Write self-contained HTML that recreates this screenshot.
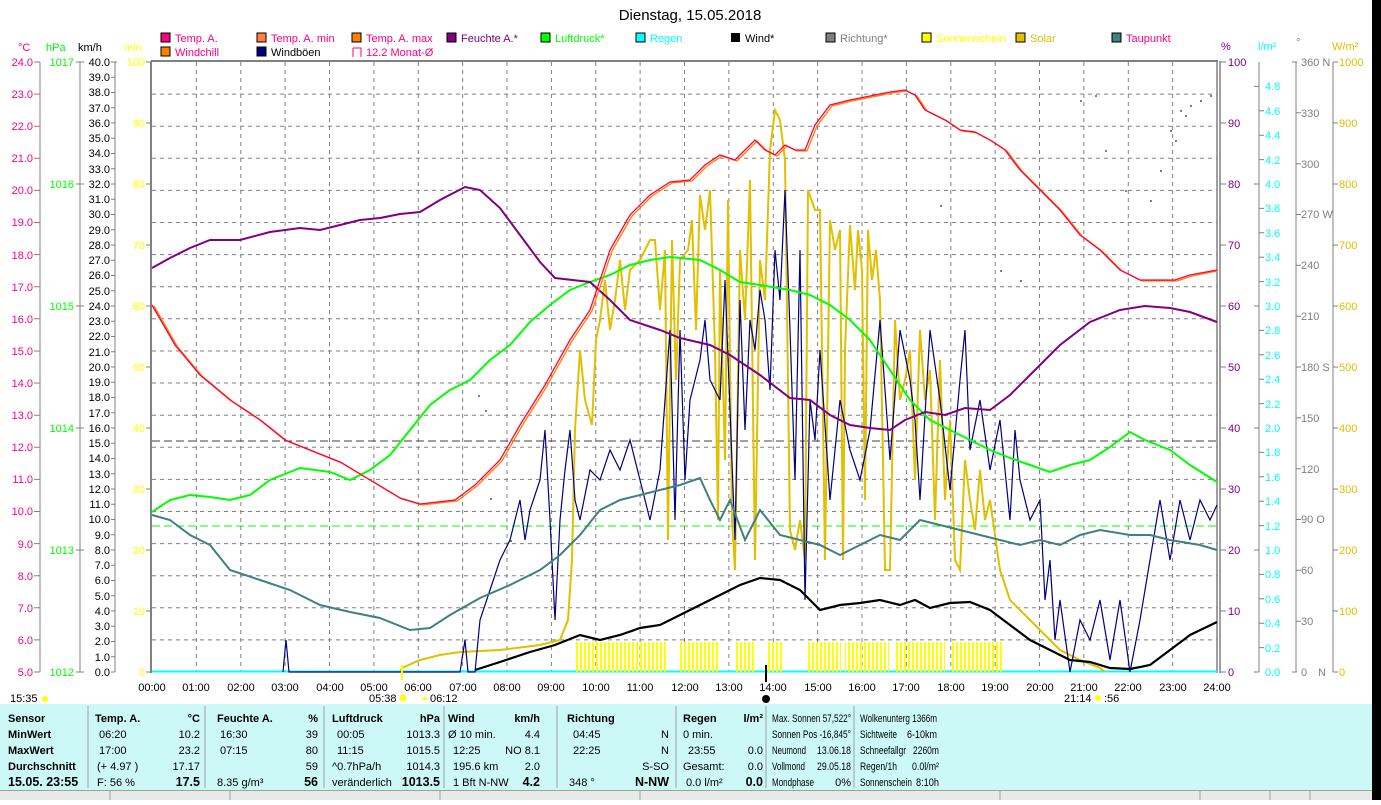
<!DOCTYPE html>
<html><head><meta charset="utf-8"><style>
body{margin:0;background:#fff;width:1381px;height:800px;overflow:hidden;font-family:"Liberation Sans",sans-serif;}
svg text{font-family:"Liberation Sans",sans-serif;font-size:11px;}
</style></head><body>
<svg width="1381" height="800" xmlns="http://www.w3.org/2000/svg">
<defs>
<pattern id="sun" width="4" height="30" patternUnits="userSpaceOnUse"><rect x="0" y="0" width="2" height="30" fill="#ffff00"/></pattern>
</defs>
<rect x="1372" y="0" width="9" height="800" fill="#000"/>
<text x="690" y="20" text-anchor="middle" style="font-size:15px">Dienstag, 15.05.2018</text>
<g style="font-size:11px">
<rect x="161" y="33" width="9" height="9" fill="#ff0080" stroke="#000"/><text x="175" y="42" fill="#ff0080">Temp. A.</text>
<rect x="257" y="33" width="9" height="9" fill="#ff8040" stroke="#000"/><text x="271" y="42" fill="#ff0080">Temp. A. min</text>
<rect x="352" y="33" width="9" height="9" fill="#ff8000" stroke="#000"/><text x="366" y="42" fill="#ff0080">Temp. A. max</text>
<rect x="447" y="33" width="9" height="9" fill="#800080" stroke="#000"/><text x="461" y="42" fill="#800080">Feuchte A.*</text>
<rect x="541" y="33" width="9" height="9" fill="#00ff00" stroke="#000"/><text x="555" y="42" fill="#00ff00">Luftdruck*</text>
<rect x="636" y="33" width="9" height="9" fill="#00ffff" stroke="#000"/><text x="650" y="42" fill="#00ffff">Regen</text>
<rect x="731" y="33" width="9" height="9" fill="#000"/><text x="745" y="42" fill="#000">Wind*</text>
<rect x="826" y="33" width="9" height="9" fill="#808080" stroke="#000"/><text x="840" y="42" fill="#808080">Richtung*</text>
<rect x="922" y="33" width="9" height="9" fill="#ffff00" stroke="#000"/><text x="936" y="42" fill="#ffff00">Sonnenschein</text>
<rect x="1016" y="33" width="9" height="9" fill="#e0c000" stroke="#000"/><text x="1030" y="42" fill="#e0c000">Solar</text>
<rect x="1112" y="33" width="9" height="9" fill="#408080" stroke="#000"/><text x="1126" y="42" fill="#ff0080">Taupunkt</text>
<rect x="161" y="47" width="9" height="9" fill="#ff8000" stroke="#000"/><text x="175" y="56" fill="#ff0080">Windchill</text>
<rect x="257" y="47" width="9" height="9" fill="#000080" stroke="#000"/><text x="271" y="56" fill="#000">Windböen</text>
<path d="M353 48 h8 v9 M353 48 v9" stroke="#ff0080" fill="none"/><text x="366" y="56" fill="#ff0080">12.2 Monat-Ø</text>
</g>
<text x="18" y="51" fill="#ff0080">°C</text><text x="46" y="51" fill="#00ff00">hPa</text><text x="78" y="51" fill="#000">km/h</text><text x="124" y="51" fill="#ffff00">min</text>
<text x="1221" y="50" fill="#800080">%</text><text x="1258" y="50" fill="#00ffff">l/m²</text><text x="1296" y="46" fill="#808080">°</text><text x="1332" y="50" fill="#e0c000">W/m²</text>
<g stroke="#808080" stroke-dasharray="4,4" stroke-width="1">
<path d="M196.4 62V672M240.8 62V672M285.1 62V672M329.5 62V672M373.9 62V672M418.3 62V672M462.6 62V672M507 62V672M551.4 62V672M595.8 62V672M640.1 62V672M684.5 62V672M728.9 62V672M773.3 62V672M817.6 62V672M862 62V672M906.4 62V672M950.8 62V672M995.1 62V672M1039.5 62V672M1083.9 62V672M1128.3 62V672M1172.6 62V672"/>
<path d="M152 94.1H1217M152 126.2H1217M152 158.3H1217M152 190.4H1217M152 222.5H1217M152 254.6H1217M152 286.7H1217M152 318.8H1217M152 351H1217M152 383H1217M152 415.2H1217M152 447.3H1217M152 479.4H1217M152 511.5H1217M152 543.6H1217M152 575.7H1217M152 607.8H1217M152 639.9H1217"/>
</g>
<path d="M152 441H1217" stroke="#404040" stroke-dasharray="8,4"/>
<path d="M152 526H1217" stroke="#00ff00" stroke-dasharray="8,4"/>
<path d="M151 61H1218" stroke="#808080" stroke-width="2"/>
<path d="M151 61V673" stroke="#808080" stroke-width="2"/>
<path d="M1217 61V673M1220 61V673" stroke="#808080" stroke-width="1.5"/>
<path d="M152 671.5H1217" stroke="#00ffff" stroke-width="2"/>
<g stroke="#808080"><path d="M40 62V672M80 62V672M115 62V672"/>
<path d="M34 62h6M34 94.1h6M34 126.2h6M34 158.3h6M34 190.4h6M34 222.5h6M34 254.6h6M34 286.7h6M34 318.8h6M34 351h6M34 383h6M34 415.2h6M34 447.3h6M34 479.4h6M34 511.5h6M34 543.6h6M34 575.7h6M34 607.8h6M34 639.9h6M34 672h6"/>
<path d="M76 62h8M76 184h8M76 306h8M76 428h8M76 550h8M76 672h8"/>
<path d="M111 62h6M111 77.25h4M111 92.5h4M111 107.75h4M111 123h4M111 138.25h4M111 153.5h4M111 168.75h4M111 184h4M111 199.25h4M111 214.5h4M111 229.75h4M111 245h4M111 260.25h4M111 275.5h4M111 290.75h4M111 306h4M111 321.25h4M111 336.5h4M111 351.75h4M111 367h4M111 382.25h4M111 397.5h4M111 412.75h4M111 428h4M111 443.25h4M111 458.5h4M111 473.75h4M111 489h4M111 504.25h4M111 519.5h4M111 534.75h4M111 550h4M111 565.25h4M111 580.5h4M111 595.75h4M111 611h4M111 626.25h4M111 641.5h4M111 656.75h4M111 672h4"/>
<path d="M146 62h5M146 123h5M146 184h5M146 245h5M146 306h5M146 367h5M146 428h5M146 489h5M146 550h5M146 611h5M146 672h5"/>
</g>
<g fill="#ff0080" text-anchor="end">
<text x="33" y="66">24.0</text><text x="33" y="98">23.0</text><text x="33" y="130">22.0</text><text x="33" y="162">21.0</text><text x="33" y="194">20.0</text><text x="33" y="226">19.0</text><text x="33" y="259">18.0</text><text x="33" y="291">17.0</text><text x="33" y="323">16.0</text><text x="33" y="355">15.0</text><text x="33" y="387">14.0</text><text x="33" y="419">13.0</text><text x="33" y="451">12.0</text><text x="33" y="483">11.0</text><text x="33" y="515">10.0</text><text x="33" y="548">9.0</text><text x="33" y="580">8.0</text><text x="33" y="612">7.0</text><text x="33" y="644">6.0</text><text x="33" y="676">5.0</text>
</g>
<g fill="#00ff00" text-anchor="end">
<text x="74" y="66">1017</text><text x="74" y="188">1016</text><text x="74" y="310">1015</text><text x="74" y="432">1014</text><text x="74" y="554">1013</text><text x="74" y="676">1012</text>
</g>
<g fill="#000" text-anchor="end">
<text x="110" y="66">40.0</text><text x="110" y="81">39.0</text><text x="110" y="96">38.0</text><text x="110" y="112">37.0</text><text x="110" y="127">36.0</text><text x="110" y="142">35.0</text><text x="110" y="157">34.0</text><text x="110" y="173">33.0</text><text x="110" y="188">32.0</text><text x="110" y="203">31.0</text><text x="110" y="218">30.0</text><text x="110" y="234">29.0</text><text x="110" y="249">28.0</text><text x="110" y="264">27.0</text><text x="110" y="279">26.0</text><text x="110" y="295">25.0</text><text x="110" y="310">24.0</text><text x="110" y="325">23.0</text><text x="110" y="340">22.0</text><text x="110" y="356">21.0</text><text x="110" y="371">20.0</text><text x="110" y="386">19.0</text><text x="110" y="401">18.0</text><text x="110" y="417">17.0</text><text x="110" y="432">16.0</text><text x="110" y="447">15.0</text><text x="110" y="462">14.0</text><text x="110" y="478">13.0</text><text x="110" y="493">12.0</text><text x="110" y="508">11.0</text><text x="110" y="523">10.0</text><text x="110" y="539">9.0</text><text x="110" y="554">8.0</text><text x="110" y="569">7.0</text><text x="110" y="584">6.0</text><text x="110" y="600">5.0</text><text x="110" y="615">4.0</text><text x="110" y="630">3.0</text><text x="110" y="645">2.0</text><text x="110" y="661">1.0</text><text x="110" y="676">0.0</text>
</g>
<g fill="#ffff00" text-anchor="end">
<text x="145" y="66">100</text><text x="145" y="127">90</text><text x="145" y="188">80</text><text x="145" y="249">70</text><text x="145" y="310">60</text><text x="145" y="371">50</text><text x="145" y="432">40</text><text x="145" y="493">30</text><text x="145" y="554">20</text><text x="145" y="615">10</text><text x="145" y="676">0</text>
</g>
<g stroke="#808080"><path d="M1259 62V672M1296 62V672M1333 62V672"/>
<path d="M1220 62h6M1220 123h6M1220 184h6M1220 245h6M1220 306h6M1220 367h6M1220 428h6M1220 489h6M1220 550h6M1220 611h6M1220 672h6"/>
<path d="M1254 86.4h5M1259 110.8h5M1259 135.2h5M1259 159.6h5M1254 184h5M1259 208.4h5M1259 232.8h5M1259 257.2h5M1259 281.6h5M1254 306h5M1259 330.4h5M1259 354.8h5M1259 379.2h5M1259 403.6h5M1254 428h5M1259 452.4h5M1259 476.8h5M1259 501.2h5M1259 525.6h5M1254 550h5M1259 574.4h5M1259 598.8h5M1259 623.2h5M1259 647.6h5M1254 672h5"/>
<path d="M1292 62h5M1296 112.8h5M1296 163.7h5M1296 214.5h5M1296 265.3h5M1296 316.2h5M1296 367h5M1296 417.8h5M1296 468.7h5M1296 519.5h5M1296 570.3h5M1296 621.2h5M1292 672h5"/>
<path d="M1333 62h5M1333 123h5M1333 184h5M1333 245h5M1333 306h5M1333 367h5M1333 428h5M1333 489h5M1333 550h5M1333 611h5M1333 672h5"/>
</g>
<g fill="#800080">
<text x="1228" y="66">100</text><text x="1228" y="127">90</text><text x="1228" y="188">80</text><text x="1228" y="249">70</text><text x="1228" y="310">60</text><text x="1228" y="371">50</text><text x="1228" y="432">40</text><text x="1228" y="493">30</text><text x="1228" y="554">20</text><text x="1228" y="615">10</text><text x="1228" y="676">0</text>
</g>
<g fill="#00ffff">
<text x="1265" y="90">4.8</text><text x="1265" y="115">4.6</text><text x="1265" y="139">4.4</text><text x="1265" y="164">4.2</text><text x="1265" y="188">4.0</text><text x="1265" y="212">3.8</text><text x="1265" y="237">3.6</text><text x="1265" y="261">3.4</text><text x="1265" y="286">3.2</text><text x="1265" y="310">3.0</text><text x="1265" y="334">2.8</text><text x="1265" y="359">2.6</text><text x="1265" y="383">2.4</text><text x="1265" y="408">2.2</text><text x="1265" y="432">2.0</text><text x="1265" y="456">1.8</text><text x="1265" y="481">1.6</text><text x="1265" y="505">1.4</text><text x="1265" y="530">1.2</text><text x="1265" y="554">1.0</text><text x="1265" y="578">0.8</text><text x="1265" y="603">0.6</text><text x="1265" y="627">0.4</text><text x="1265" y="652">0.2</text><text x="1265" y="676">0.0</text>
</g>
<g fill="#808080">
<text x="1301" y="66">360 N</text><text x="1301" y="117">330</text><text x="1301" y="168">300</text><text x="1301" y="218">270 W</text><text x="1301" y="269">240</text><text x="1301" y="320">210</text><text x="1301" y="371">180 S</text><text x="1301" y="422">150</text><text x="1301" y="473">120</text><text x="1301" y="523">90 O</text><text x="1301" y="574">60</text><text x="1301" y="625">30</text><text x="1301" y="676">0</text><text x="1318" y="676">N</text>
</g>
<g fill="#e0c000">
<text x="1339" y="66">1000</text><text x="1339" y="127">900</text><text x="1339" y="188">800</text><text x="1339" y="249">700</text><text x="1339" y="310">600</text><text x="1339" y="371">500</text><text x="1339" y="432">400</text><text x="1339" y="493">300</text><text x="1339" y="554">200</text><text x="1339" y="615">100</text><text x="1339" y="676">0</text>
</g>
<g fill="url(#sun)">
<rect x="574" y="642" width="94" height="30"/><rect x="678" y="642" width="42" height="30"/><rect x="735" y="642" width="20" height="30"/><rect x="767" y="642" width="16" height="30"/><rect x="807" y="642" width="34" height="30"/><rect x="845" y="642" width="44" height="30"/><rect x="895" y="642" width="50" height="30"/><rect x="950" y="642" width="54" height="30"/>
</g>
<g fill="#808080">
<rect x="478" y="395" width="2" height="2"/><rect x="485" y="410" width="2" height="2"/><rect x="490" y="498" width="2" height="2"/><rect x="510" y="540" width="2" height="2"/><rect x="940" y="205" width="2" height="2"/><rect x="1000" y="270" width="2" height="2"/><rect x="1080" y="100" width="2" height="2"/><rect x="1095" y="95" width="2" height="2"/><rect x="1105" y="150" width="2" height="2"/><rect x="1150" y="200" width="2" height="2"/><rect x="1160" y="170" width="2" height="2"/><rect x="1170" y="130" width="2" height="2"/><rect x="1180" y="110" width="2" height="2"/><rect x="1190" y="105" width="2" height="2"/><rect x="1200" y="100" width="2" height="2"/><rect x="1210" y="95" width="2" height="2"/><rect x="1175" y="140" width="2" height="2"/><rect x="1185" y="115" width="2" height="2"/><rect x="1020" y="280" width="2" height="2"/><rect x="1125" y="190" width="2" height="2"/>
</g>
<polyline fill="none" stroke="#e0c000" stroke-width="2" points="400,672 402,668 420,660 440,655 460,652 500,650 540,645 560,640 568,620 572,560 575,430 580,350 585,400 592,425 596,340 600,320 605,280 610,330 615,300 620,260 625,310 630,270 640,260 645,250 650,240 655,240 660,310 665,250 668,540 672,240 676,380 680,260 688,250 692,220 696,330 700,195 705,230 710,190 715,350 718,520 720,270 725,460 728,200 732,520 735,570 740,250 745,320 750,180 755,560 760,260 765,300 770,150 775,110 780,120 785,160 790,530 795,550 800,520 805,560 808,190 815,210 820,210 825,560 830,220 835,250 840,230 843,560 845,350 850,225 855,290 858,230 862,270 865,500 868,230 872,280 876,250 880,300 885,570 890,570 895,320 900,400 905,380 910,350 915,480 920,330 925,400 930,370 935,520 940,360 945,500 950,420 955,560 960,570 965,460 970,500 975,530 980,470 985,520 990,500 1000,570 1010,600 1020,610 1030,620 1040,630 1050,640 1060,650 1070,655 1080,660 1100,668 1105,672"/>
<polyline fill="none" stroke="#000080" stroke-width="1.2" points="283,672 286,640 289,672 460,672 465,640 468,672 475,672 480,620 490,590 500,560 510,540 520,500 525,540 530,510 540,480 545,430 550,520 555,620 560,520 565,470 570,430 575,500 580,520 590,470 600,480 610,450 620,470 630,440 640,480 650,520 660,470 670,330 675,520 680,330 685,480 690,400 700,360 705,320 710,380 720,400 725,280 735,540 740,300 745,430 750,320 755,350 760,290 765,320 770,390 775,250 780,300 785,190 790,330 795,480 800,250 805,600 810,400 815,440 820,350 830,500 840,400 850,450 860,480 870,430 880,320 890,460 900,330 910,380 915,420 920,500 930,330 940,400 950,490 960,380 965,330 970,450 980,400 990,470 1000,420 1010,520 1015,430 1020,480 1030,520 1040,500 1045,600 1050,560 1055,640 1060,600 1070,672 1080,620 1090,640 1100,600 1110,660 1120,600 1130,672 1140,620 1150,560 1160,500 1170,560 1180,500 1190,540 1200,500 1210,520 1217,505"/>
<polyline fill="none" stroke="#408080" stroke-width="2" points="152,515 170,520 190,535 210,545 230,570 260,580 290,590 320,605 350,612 380,618 410,630 430,628 450,615 480,598 510,585 540,570 560,555 580,535 600,510 620,500 640,495 660,490 680,485 700,478 710,500 720,520 730,500 745,540 760,510 780,535 800,540 820,545 840,555 860,545 880,535 900,540 920,520 940,525 960,530 980,535 1000,540 1020,545 1040,540 1060,545 1080,535 1100,530 1130,535 1150,535 1170,540 1200,545 1217,550"/>
<polyline fill="none" stroke="#00ff00" stroke-width="2" points="152,512 170,500 190,495 210,497 230,500 250,495 270,480 300,468 330,472 350,480 370,470 390,455 410,430 430,405 450,390 470,380 490,360 510,345 530,322 550,305 570,290 590,282 610,275 630,265 650,260 670,257 700,260 720,270 740,282 760,285 790,290 810,295 830,305 850,320 870,340 890,370 910,400 930,420 950,430 970,440 990,450 1010,458 1030,465 1050,472 1070,465 1090,460 1110,447 1130,432 1145,440 1170,450 1190,465 1217,482"/>
<polyline fill="none" stroke="#800080" stroke-width="2" points="152,268 170,258 190,248 210,240 240,240 270,232 300,228 320,230 340,225 360,220 380,218 400,214 420,212 440,200 465,187 480,190 500,208 520,235 540,262 555,278 590,282 610,300 630,320 660,330 680,338 710,345 730,355 760,375 790,398 810,400 830,415 850,425 870,428 890,430 905,420 925,412 945,415 965,408 990,410 1010,395 1030,375 1060,345 1090,322 1120,310 1145,306 1170,308 1190,312 1217,322"/>
<polyline fill="none" stroke="#ff8000" stroke-width="1.3" transform="translate(2,1)" points="152,305 175,345 200,375 230,400 260,420 285,440 310,450 340,462 370,480 400,498 420,504 455,500 475,485 500,460 520,425 545,385 570,340 590,310 610,250 630,215 650,195 670,182 690,180 705,165 720,155 735,160 745,150 755,140 765,150 775,155 785,145 795,150 805,150 815,125 830,105 850,100 870,96 890,92 905,90 915,95 925,110 935,115 945,120 960,130 975,132 990,140 1005,150 1020,170 1040,190 1060,210 1080,235 1100,250 1120,270 1140,280 1150,280 1175,280 1190,275 1215,270"/>
<polyline fill="none" stroke="#ff0040" stroke-width="1.3" points="152,305 175,345 200,375 230,400 260,420 285,440 310,450 340,462 370,480 400,498 420,504 455,500 475,485 500,460 520,425 545,385 570,340 590,310 610,250 630,215 650,195 670,182 690,180 705,165 720,155 735,160 745,150 755,140 765,150 775,155 785,145 795,150 805,150 815,125 830,105 850,100 870,96 890,92 905,90 915,95 925,110 935,115 945,120 960,130 975,132 990,140 1005,150 1020,170 1040,190 1060,210 1080,235 1100,250 1120,270 1140,280 1150,280 1175,280 1190,275 1217,270"/>
<polyline fill="none" stroke="#000" stroke-width="2.2" points="475,670 500,662 530,652 555,645 580,635 600,640 620,635 640,628 660,625 680,615 700,605 720,595 740,585 760,578 780,580 800,590 820,610 840,605 860,603 880,600 900,605 915,600 930,608 950,603 970,602 990,610 1010,625 1030,640 1050,650 1070,660 1090,662 1110,668 1130,669 1150,665 1170,650 1190,635 1217,622"/>
<path d="M402 665V680" stroke="#ffff00" stroke-width="2"/>
<path d="M766 665V682" stroke="#000" stroke-width="2"/>
<g fill="#000" text-anchor="middle" style="font-size:12px">
<text x="152" y="691">00:00</text><text x="196" y="691">01:00</text><text x="241" y="691">02:00</text><text x="285" y="691">03:00</text><text x="330" y="691">04:00</text><text x="374" y="691">05:00</text><text x="418" y="691">06:00</text><text x="463" y="691">07:00</text><text x="507" y="691">08:00</text><text x="551" y="691">09:00</text><text x="596" y="691">10:00</text><text x="640" y="691">11:00</text><text x="685" y="691">12:00</text><text x="729" y="691">13:00</text><text x="773" y="691">14:00</text><text x="818" y="691">15:00</text><text x="862" y="691">16:00</text><text x="906" y="691">17:00</text><text x="951" y="691">18:00</text><text x="995" y="691">19:00</text><text x="1040" y="691">20:00</text><text x="1084" y="691">21:00</text><text x="1128" y="691">22:00</text><text x="1173" y="691">23:00</text><text x="1217" y="691">24:00</text>
</g>
<g style="font-size:11px">
<text x="10" y="702">15:35</text><circle cx="45" cy="699" r="3" fill="#ffff00"/>
<text x="369" y="702">05:38</text><circle cx="403" cy="698" r="3.5" fill="#ffff00"/>
<text x="430" y="702">06:12</text><path d="M428 700l-3-4 -3 4z" fill="#ffff00"/>
<text x="1064" y="702">21:14</text><circle cx="1098" cy="698" r="3" fill="#ffff00"/><text x="1104" y="702">:56</text>
<circle cx="766" cy="699" r="4" fill="#000"/>
</g>
<rect x="0" y="704" width="1372" height="86" fill="#ccf8f8"/>
<rect x="0" y="790" width="1372" height="10" fill="#e8eaea"/>
<path d="M0 790.5H1372" stroke="#a0a0a0"/>
<g stroke="#a0a0a0"><path d="M88 706V788M205 706V788M324 706V788M444 706V788M557 706V788M676 706V788M766 706V788M854 706V788"/>
<path d="M110 791V800M230 791V800M440 791V800M640 791V800M1000 791V800M1200 791V800M1270 791V800M1310 791V800"/></g>
<g style="font-size:11.5px" fill="#000">
<g font-weight="bold"><text x="8" y="722">Sensor</text><text x="8" y="738">MinWert</text><text x="8" y="754">MaxWert</text><text x="8" y="770">Durchschnitt</text><text x="8" y="786" style="font-size:12.5px">15.05. 23:55</text>
<text x="95" y="722">Temp. A.</text><text x="200" y="722" text-anchor="end">°C</text>
<text x="217" y="722">Feuchte A.</text><text x="318" y="722" text-anchor="end">%</text>
<text x="332" y="722">Luftdruck</text><text x="440" y="722" text-anchor="end">hPa</text>
<text x="448" y="722">Wind</text><text x="540" y="722" text-anchor="end">km/h</text>
<text x="567" y="722">Richtung</text>
<text x="683" y="722">Regen</text><text x="763" y="722" text-anchor="end">l/m²</text>
<text x="200" y="786" text-anchor="end" style="font-size:12.5px">17.5</text><text x="318" y="786" text-anchor="end" style="font-size:12.5px">56</text><text x="440" y="786" text-anchor="end" style="font-size:12.5px">1013.5</text><text x="540" y="786" text-anchor="end" style="font-size:12.5px">4.2</text><text x="669" y="786" text-anchor="end" style="font-size:12.5px">N-NW</text><text x="763" y="786" text-anchor="end" style="font-size:12.5px">0.0</text>
</g>
<text x="99" y="738">06:20</text><text x="200" y="738" text-anchor="end">10.2</text>
<text x="99" y="754">17:00</text><text x="200" y="754" text-anchor="end">23.2</text>
<text x="97" y="770">(+ 4.97 )</text><text x="200" y="770" text-anchor="end">17.17</text>
<text x="97" y="786">F: 56 %</text>
<text x="220" y="738">16:30</text><text x="318" y="738" text-anchor="end">39</text>
<text x="220" y="754">07:15</text><text x="318" y="754" text-anchor="end">80</text>
<text x="318" y="770" text-anchor="end">59</text>
<text x="217" y="786">8.35 g/m³</text>
<text x="337" y="738">00:05</text><text x="440" y="738" text-anchor="end">1013.3</text>
<text x="337" y="754">11:15</text><text x="440" y="754" text-anchor="end">1015.5</text>
<text x="332" y="770">^0.7hPa/h</text><text x="440" y="770" text-anchor="end">1014.3</text>
<text x="332" y="786">veränderlich</text>
<text x="448" y="738">Ø 10 min.</text><text x="540" y="738" text-anchor="end">4.4</text>
<text x="453" y="754">12:25</text><text x="540" y="754" text-anchor="end">NO 8.1</text>
<text x="453" y="770">195.6 km</text><text x="540" y="770" text-anchor="end">2.0</text>
<text x="453" y="786">1 Bft N-NW</text>
<text x="573" y="738">04:45</text><text x="669" y="738" text-anchor="end">N</text>
<text x="573" y="754">22:25</text><text x="669" y="754" text-anchor="end">N</text>
<text x="669" y="770" text-anchor="end">S-SO</text>
<text x="569" y="786">348 °</text>
<text x="683" y="738">0 min.</text>
<text x="688" y="754">23:55</text><text x="763" y="754" text-anchor="end">0.0</text>
<text x="683" y="770">Gesamt:</text><text x="763" y="770" text-anchor="end">0.0</text>
<text x="686" y="786">0.0 l/m²</text>
<g style="font-size:10.5px">
<text x="772" y="722" textLength="79" lengthAdjust="spacingAndGlyphs">Max. Sonnen 57,522°</text>
<text x="772" y="738" textLength="79" lengthAdjust="spacingAndGlyphs">Sonnen Pos -16,845°</text>
<text x="772" y="754" textLength="34" lengthAdjust="spacingAndGlyphs">Neumond</text><text x="851" y="754" text-anchor="end" textLength="34" lengthAdjust="spacingAndGlyphs">13.06.18</text>
<text x="772" y="770" textLength="33" lengthAdjust="spacingAndGlyphs">Vollmond</text><text x="851" y="770" text-anchor="end" textLength="34" lengthAdjust="spacingAndGlyphs">29.05.18</text>
<text x="772" y="786" textLength="42" lengthAdjust="spacingAndGlyphs">Mondphase</text><text x="851" y="786" text-anchor="end">0%</text>
<text x="860" y="722" textLength="77" lengthAdjust="spacingAndGlyphs">Wolkenunterg 1366m</text>
<text x="860" y="738" textLength="37" lengthAdjust="spacingAndGlyphs">Sichtweite</text><text x="907" y="738" textLength="30" lengthAdjust="spacingAndGlyphs">6-10km</text>
<text x="860" y="754" textLength="46" lengthAdjust="spacingAndGlyphs">Schneefallgr</text><text x="913" y="754" textLength="26" lengthAdjust="spacingAndGlyphs">2260m</text>
<text x="860" y="770" textLength="37" lengthAdjust="spacingAndGlyphs">Regen/1h</text><text x="912" y="770" textLength="27" lengthAdjust="spacingAndGlyphs">0.0l/m²</text>
<text x="860" y="786" textLength="52" lengthAdjust="spacingAndGlyphs">Sonnenschein</text><text x="916" y="786" textLength="23" lengthAdjust="spacingAndGlyphs">8:10h</text>
</g>
</g>
</svg>
</body></html>
